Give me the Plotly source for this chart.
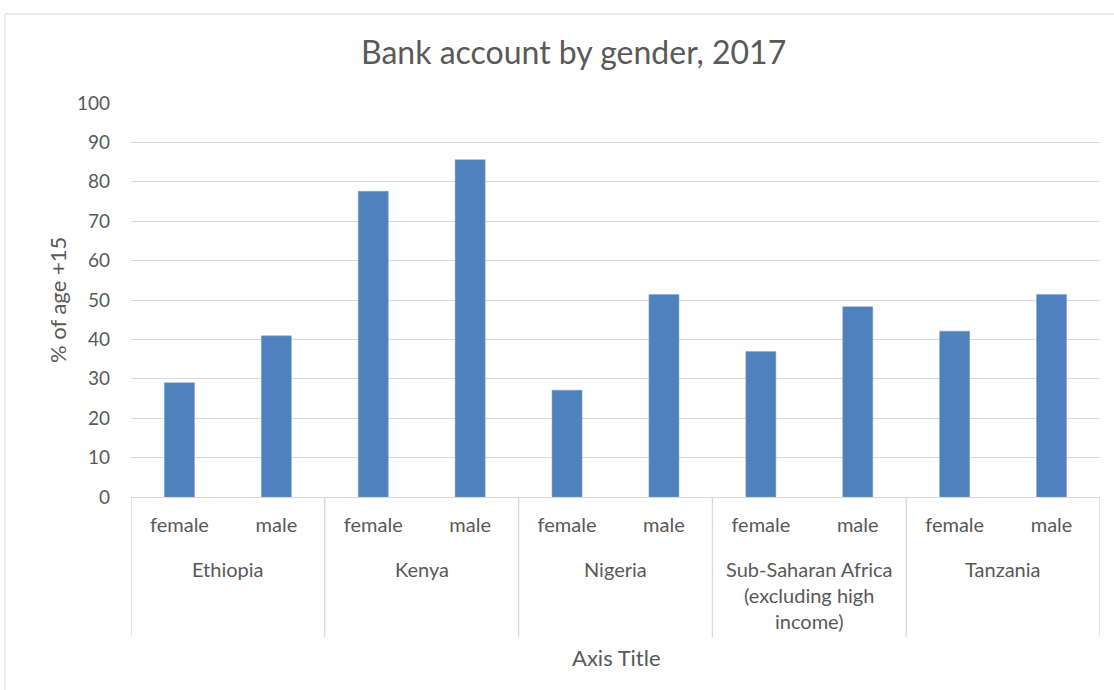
import plotly.graph_objects as go

countries = ["Ethiopia", "Kenya", "Nigeria", "Sub-Saharan Africa<br>(excluding high<br>income)", "Tanzania"]
genders = ["female", "male"]
female_vals = [29.0, 77.6, 27.1, 36.9, 42.1]
male_vals = [40.9, 85.6, 51.4, 48.3, 51.4]

title = "Bank account by gender, 2017"
y_title = "% of age +15"
x_title = "Axis Title"

FONT = "Lato"
GRAY = "#595959"
LINE = "#d9d9d9"

# flatten into x positions
x_pos, y_vals, tick_text = [], [], []
for i, c in enumerate(countries):
    for j, g in enumerate(genders):
        x_pos.append(2 * i + j)
        y_vals.append(female_vals[i] if j == 0 else male_vals[i])
        tick_text.append(g)

fig = go.Figure()
fig.add_trace(go.Bar(
    x=x_pos, y=y_vals,
    marker=dict(color="#4F81BD", line=dict(color="#7fa3d1", width=0.5)),
    width=0.31,
))

W, H = 1114, 690
L, R, T, B = 131, 14, 103, 193
pw, ph = W - L - R, H - T - B

def px_x(p):
    return (p - L) / pw

def px_y(p):
    return (H - B - p) / ph

shapes = []
# group dividers
for k in range(len(countries) + 1):
    shapes.append(dict(type="line", xref="x", yref="paper",
                       x0=2 * k - 0.5, x1=2 * k - 0.5,
                       y0=0, y1=px_y(637),
                       line=dict(color=LINE, width=1.3)))
# chart border (partially visible)
shapes.append(dict(type="rect", xref="paper", yref="paper",
                   x0=px_x(5), x1=px_x(1125), y0=px_y(14), y1=px_y(705),
                   line=dict(color=LINE, width=1), layer="below"))

annotations = []
for i, c in enumerate(countries):
    annotations.append(dict(x=2 * i + 0.5, xref="x", y=px_y(555), yref="paper",
                            text=c, showarrow=False, yanchor="top",
                            font=dict(family=FONT, size=20, color=GRAY),
                            align="center"))
annotations.append(dict(x=px_x(573), xref="paper", y=px_y(52), yref="paper",
                        text=title, showarrow=False, yanchor="middle",
                        font=dict(family=FONT, size=32, color=GRAY)))
annotations.append(dict(x=px_x(616), xref="paper", y=px_y(657), yref="paper",
                        text=x_title, showarrow=False, yanchor="middle",
                        font=dict(family=FONT, size=22, color=GRAY)))
annotations.append(dict(x=px_x(57), xref="paper", y=px_y(300), yref="paper",
                        text=y_title, showarrow=False, textangle=-90,
                        xanchor="center", yanchor="middle",
                        font=dict(family=FONT, size=22, color=GRAY)))

fig.update_layout(
    width=W, height=H,
    margin=dict(l=L, r=R, t=T, b=B, autoexpand=False),
    paper_bgcolor="white", plot_bgcolor="white",
    showlegend=False,
    shapes=shapes, annotations=annotations,
    xaxis=dict(range=[-0.5, 9.5], tickmode="array", tickvals=x_pos, ticktext=tick_text,
               showgrid=False, zeroline=False, showline=True, linecolor=LINE, linewidth=1.3,
               ticks="", ticklabelstandoff=10,
               tickfont=dict(family=FONT, size=20, color=GRAY)),
    yaxis=dict(range=[0, 100], dtick=10, showgrid=True, gridcolor=LINE, gridwidth=1.3,
               zeroline=False, showline=False, ticks="",
               ticklabelstandoff=20,
               tickfont=dict(family=FONT, size=19, color=GRAY)),
)

fig.write_html("out.html", post_script="document.body.style.margin='0';",
               config={"displayModeBar": False})
